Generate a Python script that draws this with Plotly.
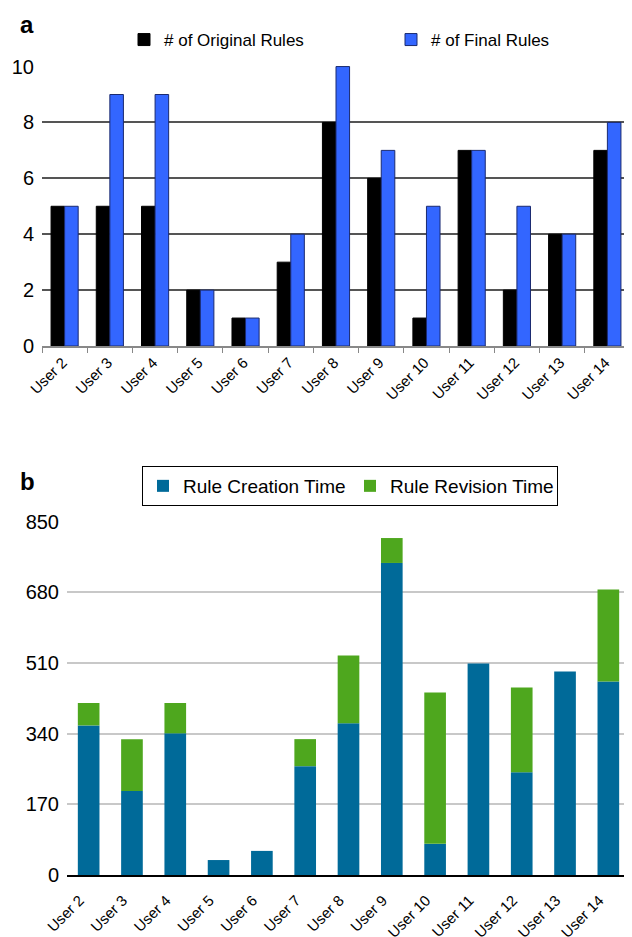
import plotly.graph_objects as go

users = ["User 2", "User 3", "User 4", "User 5", "User 6", "User 7", "User 8",
         "User 9", "User 10", "User 11", "User 12", "User 13", "User 14"]

original_rules = [5, 5, 5, 2, 1, 3, 8, 6, 1, 7, 2, 4, 7]
final_rules = [5, 9, 9, 2, 1, 4, 10, 7, 5, 7, 5, 4, 8]

creation_time = [360, 202, 341, 36, 58, 262, 365, 751, 75, 509, 247, 490, 466]
revision_time = [54, 125, 73, 0, 0, 65, 163, 60, 364, 0, 204, 0, 221]

a_ticks = [0, 2, 4, 6, 8, 10]
b_ticks = [0, 170, 340, 510, 680, 850]

# page body has an 8px margin; the figure is sized to fill the rest of the window
OX, OY = 8, 8
W, H = 632 - OX, 937 - OY
FONT = "Liberation Sans, Arial, Helvetica, sans-serif"

def px_x(x):
    return (x - OX) / W

def px_y(y):
    return 1 - (y - OY) / H

fig = go.Figure()

fig.add_trace(go.Bar(x=users, y=original_rules, name="# of Original Rules",
                     marker=dict(color="#000000", line=dict(color="#000000", width=1)),
                     xaxis="x", yaxis="y", legend="legend"))
fig.add_trace(go.Bar(x=users, y=final_rules, name="# of Final Rules",
                     marker=dict(color="#3366ff", line=dict(color="#1a2a70", width=1)),
                     xaxis="x", yaxis="y", legend="legend"))

fig.add_trace(go.Bar(x=users, y=creation_time, name="Rule Creation Time",
                     marker=dict(color="#006a99", line=dict(width=0)),
                     offsetgroup="b", width=0.5,
                     xaxis="x2", yaxis="y2", legend="legend2"))
fig.add_trace(go.Bar(x=users, y=revision_time, name="Rule Revision Time",
                     marker=dict(color="#4ea71e", line=dict(width=0)),
                     offsetgroup="b", base=creation_time, width=0.5,
                     xaxis="x2", yaxis="y2", legend="legend2"))

fig.update_layout(
    width=W, height=H,
    margin=dict(l=0, r=0, t=0, b=0, autoexpand=False),
    paper_bgcolor="white", plot_bgcolor="white",
    font=dict(family=FONT, color="#000000"),
    barmode="group",
    bargap=0.4, bargroupgap=0,
    showlegend=True,
    xaxis=dict(domain=[px_x(42), px_x(630)], anchor="y", automargin=False,
               tickangle=-45, tickfont=dict(size=15),
               showline=True, linecolor="#888888", linewidth=2,
               ticks="outside", tickson="boundaries", ticklen=5, tickcolor="#888888",
               showgrid=False, ticklabelshift=-2),
    yaxis=dict(domain=[px_y(346), px_y(66)], anchor="x", automargin=False,
               range=[0, 10.02], tickvals=a_ticks, tickfont=dict(size=20),
               showgrid=True, gridcolor="#555555", gridwidth=1.5,
               zeroline=False, showline=False, ticks="", ticklabelstandoff=7),
    xaxis2=dict(domain=[px_x(67), px_x(630)], anchor="y2", automargin=False,
                tickangle=-45, tickfont=dict(size=15),
                showline=True, linecolor="#000000", linewidth=1.5,
                ticks="", showgrid=False, ticklabelstandoff=9, ticklabelshift=-9),
    yaxis2=dict(domain=[px_y(875), px_y(521)], anchor="x2", automargin=False,
                range=[0, 852], tickvals=b_ticks, tickfont=dict(size=20),
                showgrid=True, gridcolor="#c8c8c8", gridwidth=1.5,
                zeroline=False, showline=False, ticks="", ticklabelstandoff=7),
    legend=dict(orientation="h", x=px_x(124), y=px_y(40), xanchor="left", yanchor="middle",
                font=dict(size=17), bgcolor="rgba(0,0,0,0)", borderwidth=0,
                entrywidth=222, entrywidthmode="pixels", itemwidth=30,
                traceorder="normal"),
    legend2=dict(orientation="h", x=px_x(142), y=px_y(466), xanchor="left", yanchor="top",
                 font=dict(size=19), bgcolor="white", bordercolor="#000000", borderwidth=1,
                 entrywidth=162, entrywidthmode="pixels",
                 itemwidth=30, traceorder="normal"),
    annotations=[
        dict(text="<b>a</b>", x=px_x(18), y=px_y(9), xref="paper", yref="paper",
             xanchor="left", yanchor="top", showarrow=False, font=dict(size=24)),
        dict(text="<b>b</b>", x=px_x(18), y=px_y(466), xref="paper", yref="paper",
             xanchor="left", yanchor="top", showarrow=False, font=dict(size=24)),
    ],
)

fig.write_html("out.html")
